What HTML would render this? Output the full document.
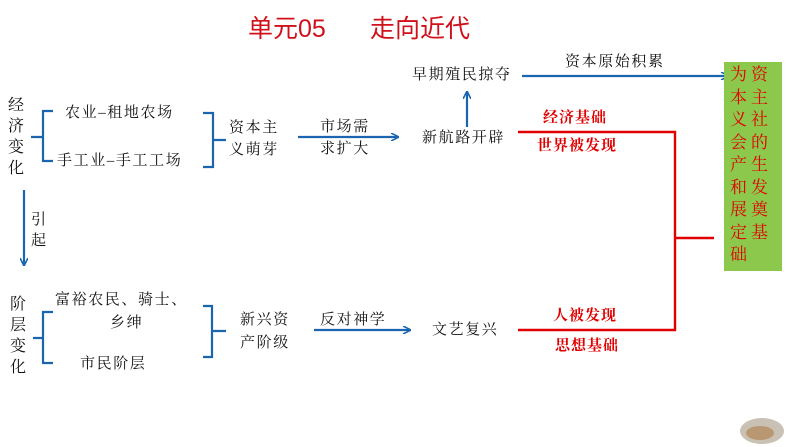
<!DOCTYPE html>
<html><head><meta charset="utf-8"><style>
body{margin:0;width:794px;height:447px;background:#fff;position:relative;overflow:hidden;font-family:"Liberation Serif","Noto Serif CJK SC",serif;}
.t{position:absolute;white-space:nowrap;font-size:15px;line-height:16px;color:#111;letter-spacing:1.6px;}
.r{color:#e00000;font-weight:bold;letter-spacing:1px;}
.v{position:absolute;font-size:16px;line-height:21px;width:18px;color:#111;}
svg{position:absolute;left:0;top:0}
</style></head><body>
<svg width="794" height="447">
<defs>
<marker id="a" markerWidth="8" markerHeight="8" refX="7" refY="4" orient="auto" markerUnits="userSpaceOnUse"><path d="M0,0 L8,4 L0,8" fill="none" stroke="#1a64b0" stroke-width="1.6"/></marker>
</defs>
<g stroke="#1a64b0" stroke-width="2.2" fill="none">
<path d="M31,137 H43 M53,111 H43 V161 H53"/>
<path d="M203,113 H213 V167 H203 M213,140 H226"/>
<path d="M33,338 H43 M53,312 H43 V363 H53"/>
<path d="M203,306 H212 V357 H203 M212,331 H226"/>
<line x1="298" y1="137" x2="398" y2="137" marker-end="url(#a)"/>
<line x1="314" y1="330" x2="410" y2="330" marker-end="url(#a)"/>
<line x1="24" y1="190" x2="24" y2="265" marker-end="url(#a)"/>
<line x1="467" y1="127" x2="467" y2="92" marker-end="url(#a)"/>
<line x1="522" y1="76" x2="728" y2="76" marker-end="url(#a)"/>
</g>
<g stroke="#e00000" stroke-width="2.4" fill="none">
<path d="M518,132 H675 V330 H518 M675,238 H714"/>
</g>
<rect x="724" y="62" width="58" height="209" fill="#8cc84b"/>
<ellipse cx="762" cy="431" rx="22" ry="13" fill="#c9c2b4"/>
<ellipse cx="760" cy="433" rx="14" ry="7" fill="#b07a48" opacity=".6"/>
</svg>
<div class="t" style="left:248px;top:14px;font-family:'Liberation Sans','Noto Sans CJK SC',sans-serif;font-size:25px;line-height:30px;color:#d0101a;letter-spacing:0">单元05</div>
<div class="t" style="left:370px;top:14px;font-family:'Liberation Sans','Noto Sans CJK SC',sans-serif;font-size:25px;line-height:30px;color:#d0101a;letter-spacing:0">走向近代</div>

<div class="v" style="left:8px;top:95px;">经济变化</div>
<div class="v" style="left:10px;top:294px;">阶层变化</div>
<div class="v" style="left:31px;top:210px;font-size:15px;">引起</div>

<div class="t" style="left:65px;top:105px;">农业–租地农场</div>
<div class="t" style="left:57px;top:153px;">手工业–手工工场</div>
<div class="t" style="left:229px;top:120px;">资本主</div>
<div class="t" style="left:229px;top:142px;">义萌芽</div>
<div class="t" style="left:320px;top:119px;">市场需</div>
<div class="t" style="left:320px;top:141px;">求扩大</div>

<div class="t" style="left:55px;top:292px;">富裕农民、骑士、</div>
<div class="t" style="left:110px;top:315px;">乡绅</div>
<div class="t" style="left:80px;top:356px;">市民阶层</div>
<div class="t" style="left:240px;top:312px;">新兴资</div>
<div class="t" style="left:240px;top:335px;">产阶级</div>
<div class="t" style="left:320px;top:312px;">反对神学</div>

<div class="t" style="left:412px;top:67px;">早期殖民掠夺</div>
<div class="t" style="left:565px;top:54px;">资本原始积累</div>
<div class="t" style="left:422px;top:130px;">新航路开辟</div>
<div class="t" style="left:432px;top:322px;">文艺复兴</div>

<div class="t r" style="left:543px;top:110px;">经济基础</div>
<div class="t r" style="left:537px;top:138px;">世界被发现</div>
<div class="t r" style="left:553px;top:308px;">人被发现</div>
<div class="t r" style="left:555px;top:338px;">思想基础</div>

<div class="t" style="left:730px;top:64px;width:46px;white-space:normal;font-size:17px;line-height:22.5px;color:#e00000;letter-spacing:4px;">为资本主义社会的产生和发展奠定基础</div>
</body></html>
